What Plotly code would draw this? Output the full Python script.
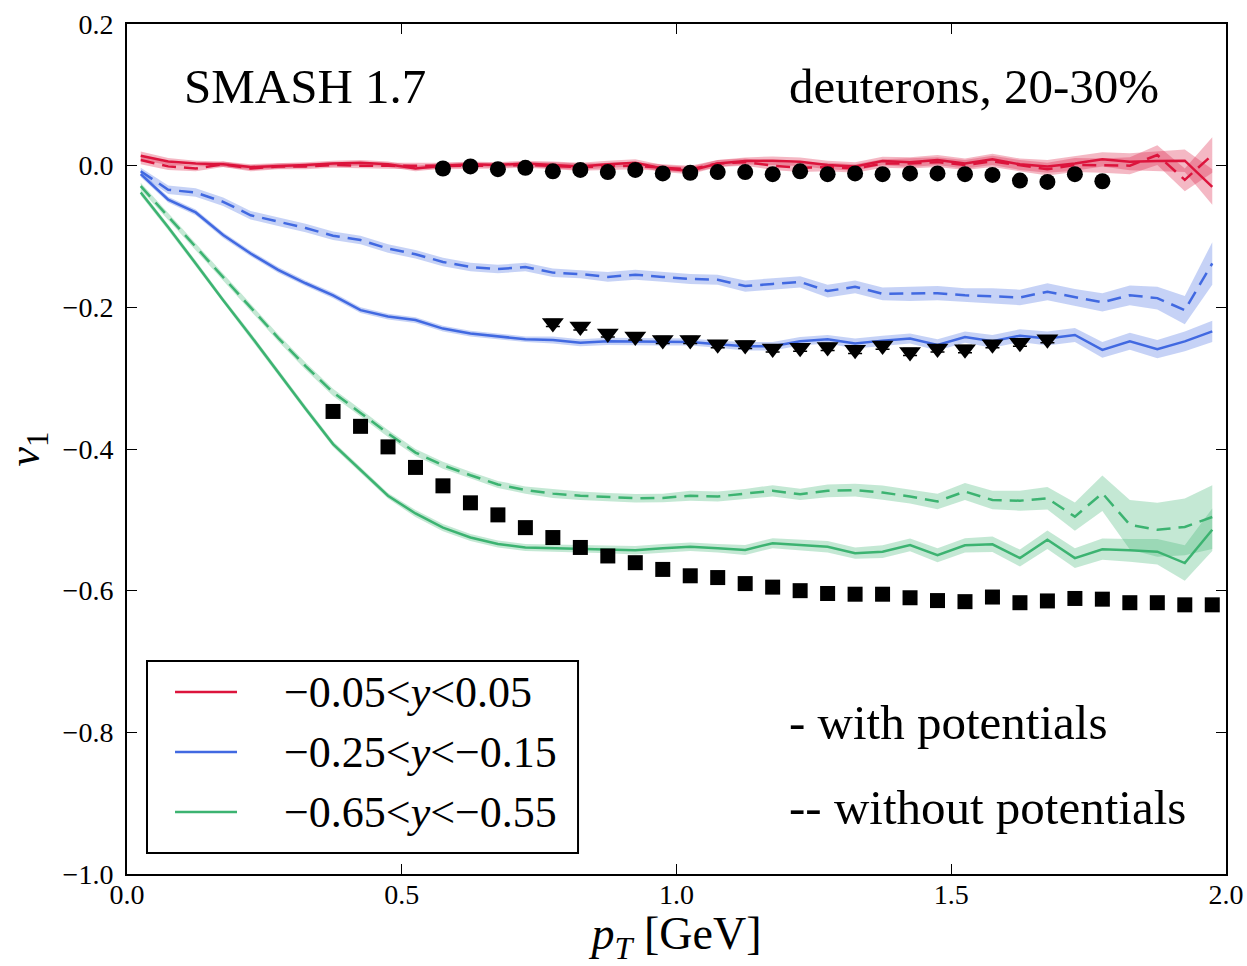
import plotly.graph_objects as go

# ---------------- data ----------------
pt = [0.025 + 0.05 * i for i in range(40)]

red_with = [0.014, 0.006, 0.003, 0.002, -0.002, -0.001, 0.001, 0.003, 0.004, 0.002,
            -0.004, 0.0, 0.002, 0.001, 0.003, 0.001, -0.001, 0.002, 0.004,
            -0.004, -0.007, 0.003, 0.0066, 0.007, 0.0055, 0.001, -0.001, 0.0066, 0.005,
            0.008, 0.003, 0.009, 0.002, -0.001, 0.003, 0.009, 0.0055, 0.0066, 0.007, -0.030]
red_without = [0.008, -0.001, -0.004, 0.002, -0.004, -0.001, -0.001, 0.001, 0.0, 0.0,
               -0.001, -0.001, -0.001, 0.0, 0.001, 0.0, -0.002, -0.001, 0.0, -0.003,
               -0.005, 0.003, 0.005, 0.0, -0.003, -0.002, -0.004, 0.003, 0.003, 0.005,
               0.001, 0.006, 0.0, -0.005, 0.001, 0.0, 0.0, 0.015, -0.020, 0.015]
red_with_err = [0.006, 0.005, 0.004, 0.004, 0.004, 0.004, 0.004, 0.004, 0.004, 0.004,
                0.004, 0.004, 0.004, 0.004, 0.004, 0.005, 0.005, 0.005, 0.005, 0.005,
                0.005, 0.005, 0.005, 0.006, 0.006, 0.006, 0.006, 0.006, 0.007, 0.007,
                0.007, 0.008, 0.008, 0.009, 0.010, 0.010, 0.012, 0.014, 0.016, 0.025]
red_without_err = [0.006, 0.005, 0.004, 0.004, 0.004, 0.004, 0.004, 0.004, 0.004, 0.004,
                   0.004, 0.004, 0.004, 0.004, 0.004, 0.005, 0.005, 0.005, 0.005, 0.005,
                   0.005, 0.005, 0.005, 0.006, 0.006, 0.006, 0.006, 0.006, 0.007, 0.007,
                   0.007, 0.008, 0.008, 0.009, 0.010, 0.010, 0.012, 0.014, 0.016, 0.025]

blue_with = [-0.012, -0.048, -0.066, -0.098, -0.124, -0.147, -0.166, -0.183, -0.204, -0.213,
             -0.218, -0.230, -0.237, -0.241, -0.245, -0.246, -0.250, -0.248, -0.248, -0.249,
             -0.249, -0.252, -0.255, -0.255, -0.248, -0.245, -0.251, -0.247, -0.244, -0.253,
             -0.242, -0.248, -0.240, -0.244, -0.239, -0.260, -0.248, -0.259, -0.248, -0.234]
blue_without = [-0.008, -0.034, -0.038, -0.051, -0.070, -0.079, -0.088, -0.099, -0.105, -0.117,
                -0.125, -0.136, -0.143, -0.146, -0.143, -0.151, -0.153, -0.157, -0.154, -0.157,
                -0.160, -0.161, -0.170, -0.167, -0.164, -0.177, -0.171, -0.181, -0.181, -0.180,
                -0.183, -0.184, -0.186, -0.178, -0.186, -0.193, -0.183, -0.187, -0.204, -0.138]
blue_with_err = [0.004, 0.004, 0.004, 0.004, 0.004, 0.004, 0.004, 0.004, 0.004, 0.004,
                 0.004, 0.004, 0.004, 0.004, 0.004, 0.005, 0.005, 0.005, 0.005, 0.005,
                 0.005, 0.005, 0.006, 0.006, 0.006, 0.006, 0.007, 0.007, 0.007, 0.008,
                 0.008, 0.009, 0.009, 0.010, 0.010, 0.011, 0.012, 0.013, 0.014, 0.015]
blue_without_err = [0.005, 0.006, 0.006, 0.006, 0.006, 0.006, 0.006, 0.006, 0.006, 0.006,
                    0.006, 0.006, 0.006, 0.006, 0.006, 0.006, 0.006, 0.007, 0.007, 0.007,
                    0.007, 0.007, 0.008, 0.008, 0.008, 0.009, 0.009, 0.009, 0.010, 0.010,
                    0.010, 0.011, 0.011, 0.012, 0.012, 0.013, 0.014, 0.016, 0.020, 0.030]

green_with = [-0.038, -0.087, -0.138, -0.190, -0.240, -0.292, -0.343, -0.393, -0.430, -0.466,
              -0.491, -0.511, -0.525, -0.534, -0.539, -0.540, -0.541, -0.542, -0.543, -0.540,
              -0.538, -0.540, -0.5425, -0.533, -0.5355, -0.538, -0.547, -0.545, -0.5355, -0.550,
              -0.536, -0.5345, -0.554, -0.528, -0.554, -0.5415, -0.543, -0.545, -0.561, -0.514]
green_without = [-0.029, -0.072, -0.115, -0.157, -0.200, -0.243, -0.283, -0.320, -0.349, -0.378,
                 -0.405, -0.423, -0.437, -0.450, -0.458, -0.463, -0.466, -0.468, -0.4695, -0.469,
                 -0.466, -0.467, -0.4635, -0.459, -0.464, -0.459, -0.458, -0.4615, -0.467, -0.474,
                 -0.460, -0.472, -0.473, -0.4695, -0.4955, -0.4625, -0.507, -0.514, -0.510, -0.496]
green_with_err = [0.004, 0.004, 0.004, 0.004, 0.004, 0.004, 0.004, 0.004, 0.004, 0.004,
                  0.005, 0.005, 0.005, 0.005, 0.005, 0.005, 0.005, 0.005, 0.006, 0.006,
                  0.006, 0.006, 0.007, 0.007, 0.008, 0.008, 0.008, 0.009, 0.009, 0.010,
                  0.010, 0.011, 0.012, 0.013, 0.014, 0.015, 0.016, 0.018, 0.025, 0.030]
green_without_err = [0.005, 0.005, 0.005, 0.005, 0.005, 0.005, 0.005, 0.005, 0.005, 0.005,
                     0.005, 0.005, 0.005, 0.005, 0.005, 0.006, 0.006, 0.006, 0.006, 0.006,
                     0.007, 0.007, 0.007, 0.008, 0.008, 0.009, 0.009, 0.010, 0.010, 0.011,
                     0.012, 0.013, 0.014, 0.016, 0.020, 0.025, 0.035, 0.038, 0.040, 0.045]

circ_pt = [0.575 + 0.05 * i for i in range(25)]
circ_v1 = [-0.004, -0.001, -0.005, -0.003, -0.008, -0.006, -0.009, -0.006, -0.011, -0.010,
           -0.009, -0.009, -0.012, -0.008, -0.012, -0.011, -0.012, -0.011, -0.011, -0.012,
           -0.013, -0.021, -0.023, -0.012, -0.022]
tri_pt = [0.775 + 0.05 * i for i in range(19)]
tri_v1 = [-0.222, -0.227, -0.237, -0.241, -0.246, -0.246, -0.252, -0.253, -0.258, -0.257,
          -0.256, -0.260, -0.254, -0.263, -0.258, -0.259, -0.252, -0.250, -0.245]
tri_err = [0.005] * 19
sq_pt = [0.375 + 0.05 * i for i in range(33)]
sq_v1 = [-0.347, -0.368, -0.397, -0.426, -0.452, -0.476, -0.493, -0.511, -0.525, -0.539,
         -0.551, -0.5605, -0.570, -0.579, -0.5815, -0.590, -0.595, -0.600, -0.604, -0.605,
         -0.605, -0.610, -0.614, -0.6155, -0.609, -0.617, -0.6145, -0.611, -0.612, -0.617,
         -0.617, -0.620, -0.620]

legend_labels = ["\u22120.05&lt;<i>y</i>&lt;0.05",
                 "\u22120.25&lt;<i>y</i>&lt;\u22120.15",
                 "\u22120.65&lt;<i>y</i>&lt;\u22120.55"]

RED = "#DC143C"
BLUE = "#4169E1"
GREEN = "#3CB371"
RED_F = "rgba(220,20,60,0.30)"
BLUE_F = "rgba(65,105,225,0.30)"
GREEN_F = "rgba(60,179,113,0.30)"

FONT = "Liberation Serif"

fig = go.Figure()


def add_band(vals, errs, fill):
    lo = [v - e for v, e in zip(vals, errs)]
    hi = [v + e for v, e in zip(vals, errs)]
    fig.add_trace(go.Scatter(x=pt + pt[::-1], y=hi + lo[::-1], fill="toself",
                             fillcolor=fill, line=dict(width=0), mode="lines",
                             hoverinfo="skip", showlegend=False))


series = [
    (red_with, red_with_err, red_without, red_without_err, RED, RED_F, legend_labels[0]),
    (blue_with, blue_with_err, blue_without, blue_without_err, BLUE, BLUE_F, legend_labels[1]),
    (green_with, green_with_err, green_without, green_without_err, GREEN, GREEN_F, legend_labels[2]),
]

for w, we, wo, woe, c, f, lab in series:
    add_band(w, we, f)
    add_band(wo, woe, f)

for w, we, wo, woe, c, f, lab in series:
    fig.add_trace(go.Scatter(x=pt, y=wo, mode="lines",
                             line=dict(color=c, width=2.5, dash="14px,8px"),
                             showlegend=False))
    fig.add_trace(go.Scatter(x=pt, y=w, mode="lines", line=dict(color=c, width=2.5),
                             name=lab, showlegend=False))

fig.add_trace(go.Scatter(x=circ_pt, y=circ_v1, mode="markers",
                         marker=dict(symbol="circle", size=16, color="black"), showlegend=False))
fig.add_trace(go.Scatter(x=tri_pt, y=tri_v1, mode="markers",
                         error_y=dict(type="data", array=tri_err, color="black",
                                      thickness=1.5, width=7),
                         marker=dict(symbol="triangle-down", size=19, color="black"),
                         showlegend=False))
fig.add_trace(go.Scatter(x=sq_pt, y=sq_v1, mode="markers",
                         marker=dict(symbol="square", size=15, color="black"), showlegend=False))

axis_common = dict(showgrid=False, zeroline=False, showline=True, linecolor="black",
                   linewidth=2, mirror="ticks", ticks="inside", ticklen=10, tickwidth=1.2,
                   tickcolor="black", automargin=False,
                   tickfont=dict(family=FONT, size=28, color="black"))

fig.update_xaxes(range=[0, 2.0], tickvals=[0, 0.5, 1.0, 1.5, 2.0], tickformat=".1f",
                 ticklabelstandoff=-6,
                 title=dict(text="<i>p</i><sub><i>T</i></sub> [GeV]",
                            font=dict(family=FONT, size=46, color="black"), standoff=32),
                 **axis_common)
fig.update_yaxes(range=[-1.0, 0.2], tickvals=[-1.0, -0.8, -0.6, -0.4, -0.2, 0.0, 0.2],
                 tickformat=".1f", ticklabelstandoff=6,
                 title=dict(text="<i>v</i><sub>1</sub>",
                            font=dict(family=FONT, size=44, color="black"), standoff=37),
                 **axis_common)

ann_font = dict(family=FONT, size=49, color="black")
annotations = [
    dict(text="SMASH 1.7", x=0.05, y=0.926),
    dict(text="deuterons, 20-30%", x=0.6005, y=0.926),
    dict(text="- with potentials", x=0.6005, y=0.178),
    dict(text="-- without potentials", x=0.6005, y=0.078),
]
for a in annotations:
    fig.add_annotation(xref="paper", yref="paper", xanchor="left", yanchor="middle",
                       showarrow=False, font=ann_font, **a)

# legend (drawn as a framed key in paper coordinates)
fig.add_shape(type="rect", xref="paper", yref="paper", x0=0.0182, x1=0.4104,
              y0=0.0247, y1=0.2506, line=dict(color="black", width=2),
              fillcolor="white", layer="above")
legend_rows = [0.2141, 0.1435, 0.0729]
for (w, we, wo, woe, c, f, lab), yy in zip(series, legend_rows):
    fig.add_shape(type="line", xref="paper", yref="paper", x0=0.0437, x1=0.1001,
                  y0=yy, y1=yy, line=dict(color=c, width=2.5), layer="above")
    fig.add_annotation(xref="paper", yref="paper", x=0.1410, y=yy, xanchor="left",
                       yanchor="middle", text=lab, showarrow=False,
                       font=dict(family=FONT, size=44, color="black"))

fig.update_layout(
    width=1247, height=966,
    margin=dict(l=127, r=21, t=24, b=92),
    plot_bgcolor="white", paper_bgcolor="white",
    showlegend=False,
)

fig.write_html("out.html", config={"displayModeBar": False},
               post_script="document.body.style.margin='0';document.body.style.overflow='hidden';")
